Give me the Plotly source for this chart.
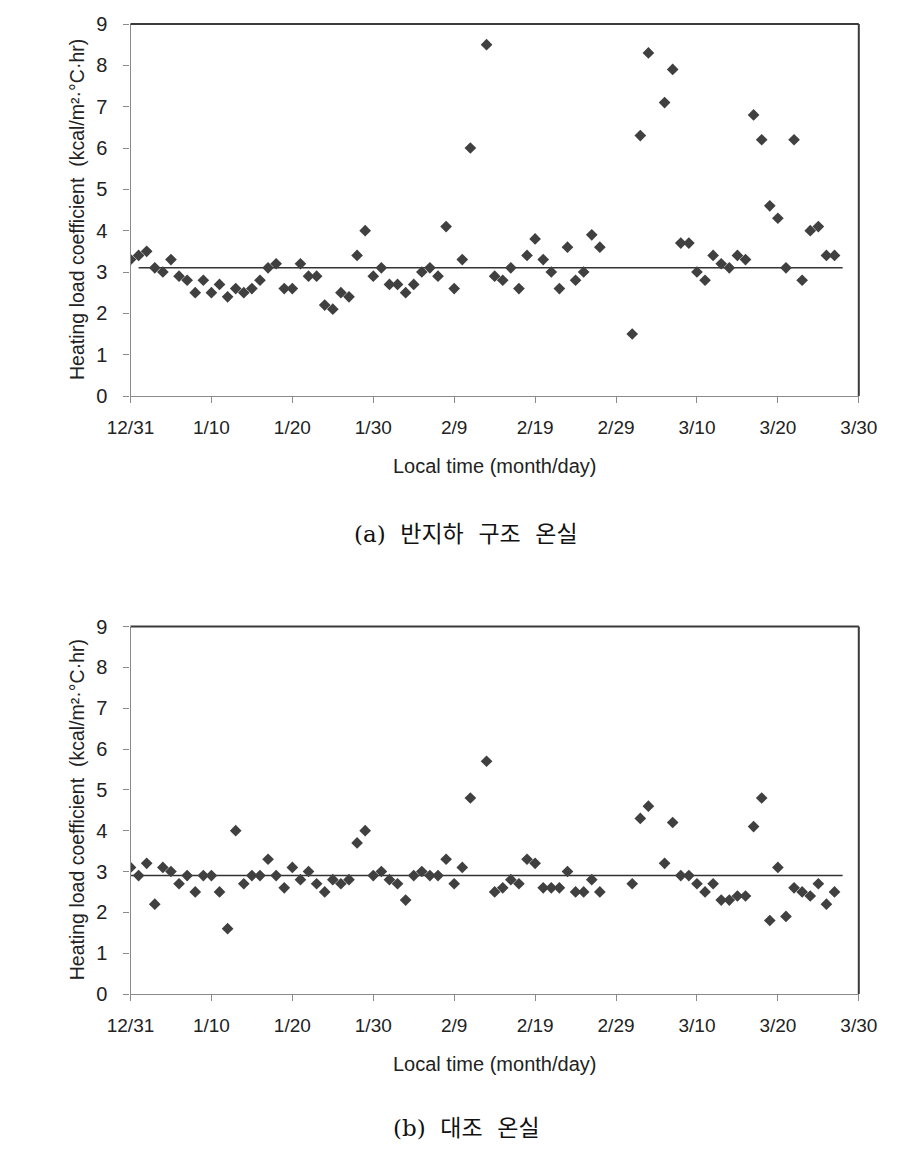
import plotly.graph_objects as go

# ---- data (day offset from 12/31) ----
tick_days = [0, 10, 20, 30, 40, 50, 60, 70, 80, 90]
tick_labels = ["12/31", "1/10", "1/20", "1/30", "2/9", "2/19", "2/29", "3/10", "3/20", "3/30"]

days_a = list(range(0, 43)) + [44, 45, 46, 47, 48, 49, 50, 51, 52, 53, 54, 55, 56, 57, 58,
                               62, 63, 64, 66, 67, 68, 69, 70, 71, 72, 73, 74, 75, 76, 77,
                               78, 79, 80, 81, 82, 83, 84, 85, 86, 87]
vals_a = [3.3, 3.4, 3.5, 3.1, 3.0, 3.3, 2.9, 2.8, 2.5, 2.8,
          2.5, 2.7, 2.4, 2.6, 2.5, 2.6, 2.8, 3.1, 3.2, 2.6,
          2.6, 3.2, 2.9, 2.9, 2.2, 2.1, 2.5, 2.4, 3.4, 4.0,
          2.9, 3.1, 2.7, 2.7, 2.5, 2.7, 3.0, 3.1, 2.9, 4.1,
          2.6, 3.3, 6.0,
          8.5, 2.9, 2.8, 3.1, 2.6, 3.4, 3.8, 3.3, 3.0, 2.6, 3.6, 2.8, 3.0, 3.9, 3.6,
          1.5, 6.3, 8.3, 7.1, 7.9, 3.7, 3.7, 3.0, 2.8, 3.4, 3.2, 3.1, 3.4, 3.3, 6.8,
          6.2, 4.6, 4.3, 3.1, 6.2, 2.8, 4.0, 4.1, 3.4, 3.4]

days_b = list(days_a)
vals_b = [3.1, 2.9, 3.2, 2.2, 3.1, 3.0, 2.7, 2.9, 2.5, 2.9,
          2.9, 2.5, 1.6, 4.0, 2.7, 2.9, 2.9, 3.3, 2.9, 2.6,
          3.1, 2.8, 3.0, 2.7, 2.5, 2.8, 2.7, 2.8, 3.7, 4.0,
          2.9, 3.0, 2.8, 2.7, 2.3, 2.9, 3.0, 2.9, 2.9, 3.3,
          2.7, 3.1, 4.8,
          5.7, 2.5, 2.6, 2.8, 2.7, 3.3, 3.2, 2.6, 2.6, 2.6, 3.0, 2.5, 2.5, 2.8, 2.5,
          2.7, 4.3, 4.6, 3.2, 4.2, 2.9, 2.9, 2.7, 2.5, 2.7, 2.3, 2.3, 2.4, 2.4, 4.1,
          4.8, 1.8, 3.1, 1.9, 2.6, 2.5, 2.4, 2.7, 2.2, 2.5]

mean_a_days = [1, 88]
mean_a_vals = [3.1, 3.1]
mean_b_days = [0, 88]
mean_b_vals = [2.9, 2.9]

y_ticks = [0, 1, 2, 3, 4, 5, 6, 7, 8, 9]

y_title = "Heating load coefficient\u00a0\u00a0(kcal/m\u00b2\u00b7\u00b0C\u00b7hr)"
x_title = "Local time (month/day)"
cap_a = "(a)\u00a0\u00a0반지하\u00a0\u00a0구조\u00a0\u00a0온실"
cap_b = "(b)\u00a0\u00a0대조\u00a0\u00a0온실"

# ---- styles ----
W, H = 914, 1156
OFF = 8  # page body margin
MARK = "#404040"
TXT = "#222222"
AXC = "#8a8a8a"
FRAME = "#3a3a3a"
FONT = "Liberation Sans, Arial, sans-serif"

def px_x(p):
    return (p - OFF) / W

def px_y(p):
    return 1 - (p - OFF) / H

fig = go.Figure()

for (dx, dy, mx, my, xa, ya) in [(days_a, vals_a, mean_a_days, mean_a_vals, "x", "y"),
                                 (days_b, vals_b, mean_b_days, mean_b_vals, "x2", "y2")]:
    fig.add_trace(go.Scatter(x=mx, y=my, mode="lines", xaxis=xa, yaxis=ya,
                             line=dict(color="#333333", width=1.5), showlegend=False,
                             hoverinfo="skip"))
    fig.add_trace(go.Scatter(x=dx, y=dy, mode="markers", xaxis=xa, yaxis=ya,
                             marker=dict(symbol="diamond", size=9, color=MARK,
                                         line=dict(width=0)),
                             showlegend=False))

xdom = [px_x(130.5), px_x(858.8)]
ydom_a = [px_y(396), px_y(24)]
ydom_b = [px_y(994), px_y(626.5)]

xaxis_common = dict(range=[0, 90], tickmode="array", tickvals=tick_days, ticktext=tick_labels,
                    showline=True, linecolor=AXC, linewidth=1.2, ticks="outside",
                    ticklen=6, tickcolor=AXC, tickwidth=1, showgrid=False, zeroline=False,
                    tickfont=dict(family=FONT, size=19, color=TXT), ticklabelstandoff=8,
                    fixedrange=True, automargin=False)
yaxis_common = dict(range=[0, 9], tickmode="array", tickvals=y_ticks,
                    showline=True, linecolor=AXC, linewidth=1.2, ticks="outside",
                    ticklen=6, tickcolor=AXC, tickwidth=1, showgrid=False, zeroline=False,
                    tickfont=dict(family=FONT, size=20, color=TXT), ticklabelstandoff=12,
                    fixedrange=True, automargin=False)

fig.update_layout(
    template="none",
    width=W, height=H,
    margin=dict(l=0, r=0, t=0, b=0, pad=0),
    paper_bgcolor="white", plot_bgcolor="white",
    xaxis=dict(domain=xdom, anchor="y", **xaxis_common),
    yaxis=dict(domain=ydom_a, anchor="x", **yaxis_common),
    xaxis2=dict(domain=xdom, anchor="y2", **xaxis_common),
    yaxis2=dict(domain=ydom_b, anchor="x2", **yaxis_common),
)

shapes = []
for (ytop, ybot) in [(ydom_a[1], ydom_a[0]), (ydom_b[1], ydom_b[0])]:
    shapes.append(dict(type="line", xref="paper", yref="paper", x0=xdom[0], x1=xdom[1],
                       y0=ytop, y1=ytop, line=dict(color=FRAME, width=2)))
    shapes.append(dict(type="line", xref="paper", yref="paper", x0=xdom[1], x1=xdom[1],
                       y0=ybot, y1=ytop, line=dict(color=FRAME, width=2)))
fig.update_layout(shapes=shapes)

xc = (xdom[0] + xdom[1]) / 2
ann = []
for (yc_title, y_xt, y_cap, cap) in [((ydom_a[0] + ydom_a[1]) / 2, px_y(466), px_y(534), cap_a),
                                      ((ydom_b[0] + ydom_b[1]) / 2, px_y(1064), px_y(1128), cap_b)]:
    ann.append(dict(text=y_title, xref="paper", yref="paper", x=px_x(77), y=yc_title,
                    textangle=-90, showarrow=False, xanchor="center", yanchor="middle",
                    font=dict(family=FONT, size=19.5, color=TXT)))
    ann.append(dict(text=x_title, xref="paper", yref="paper", x=xc, y=y_xt,
                    showarrow=False, xanchor="center", yanchor="middle",
                    font=dict(family=FONT, size=20, color=TXT)))
    ann.append(dict(text=cap, xref="paper", yref="paper", x=px_x(466), y=y_cap,
                    showarrow=False, xanchor="center", yanchor="middle",
                    font=dict(family="DejaVu Serif, Noto Sans CJK KR, serif", size=23, color="#111111")))
fig.update_layout(annotations=ann)

fig.write_html("out.html", config={"displayModeBar": False})
